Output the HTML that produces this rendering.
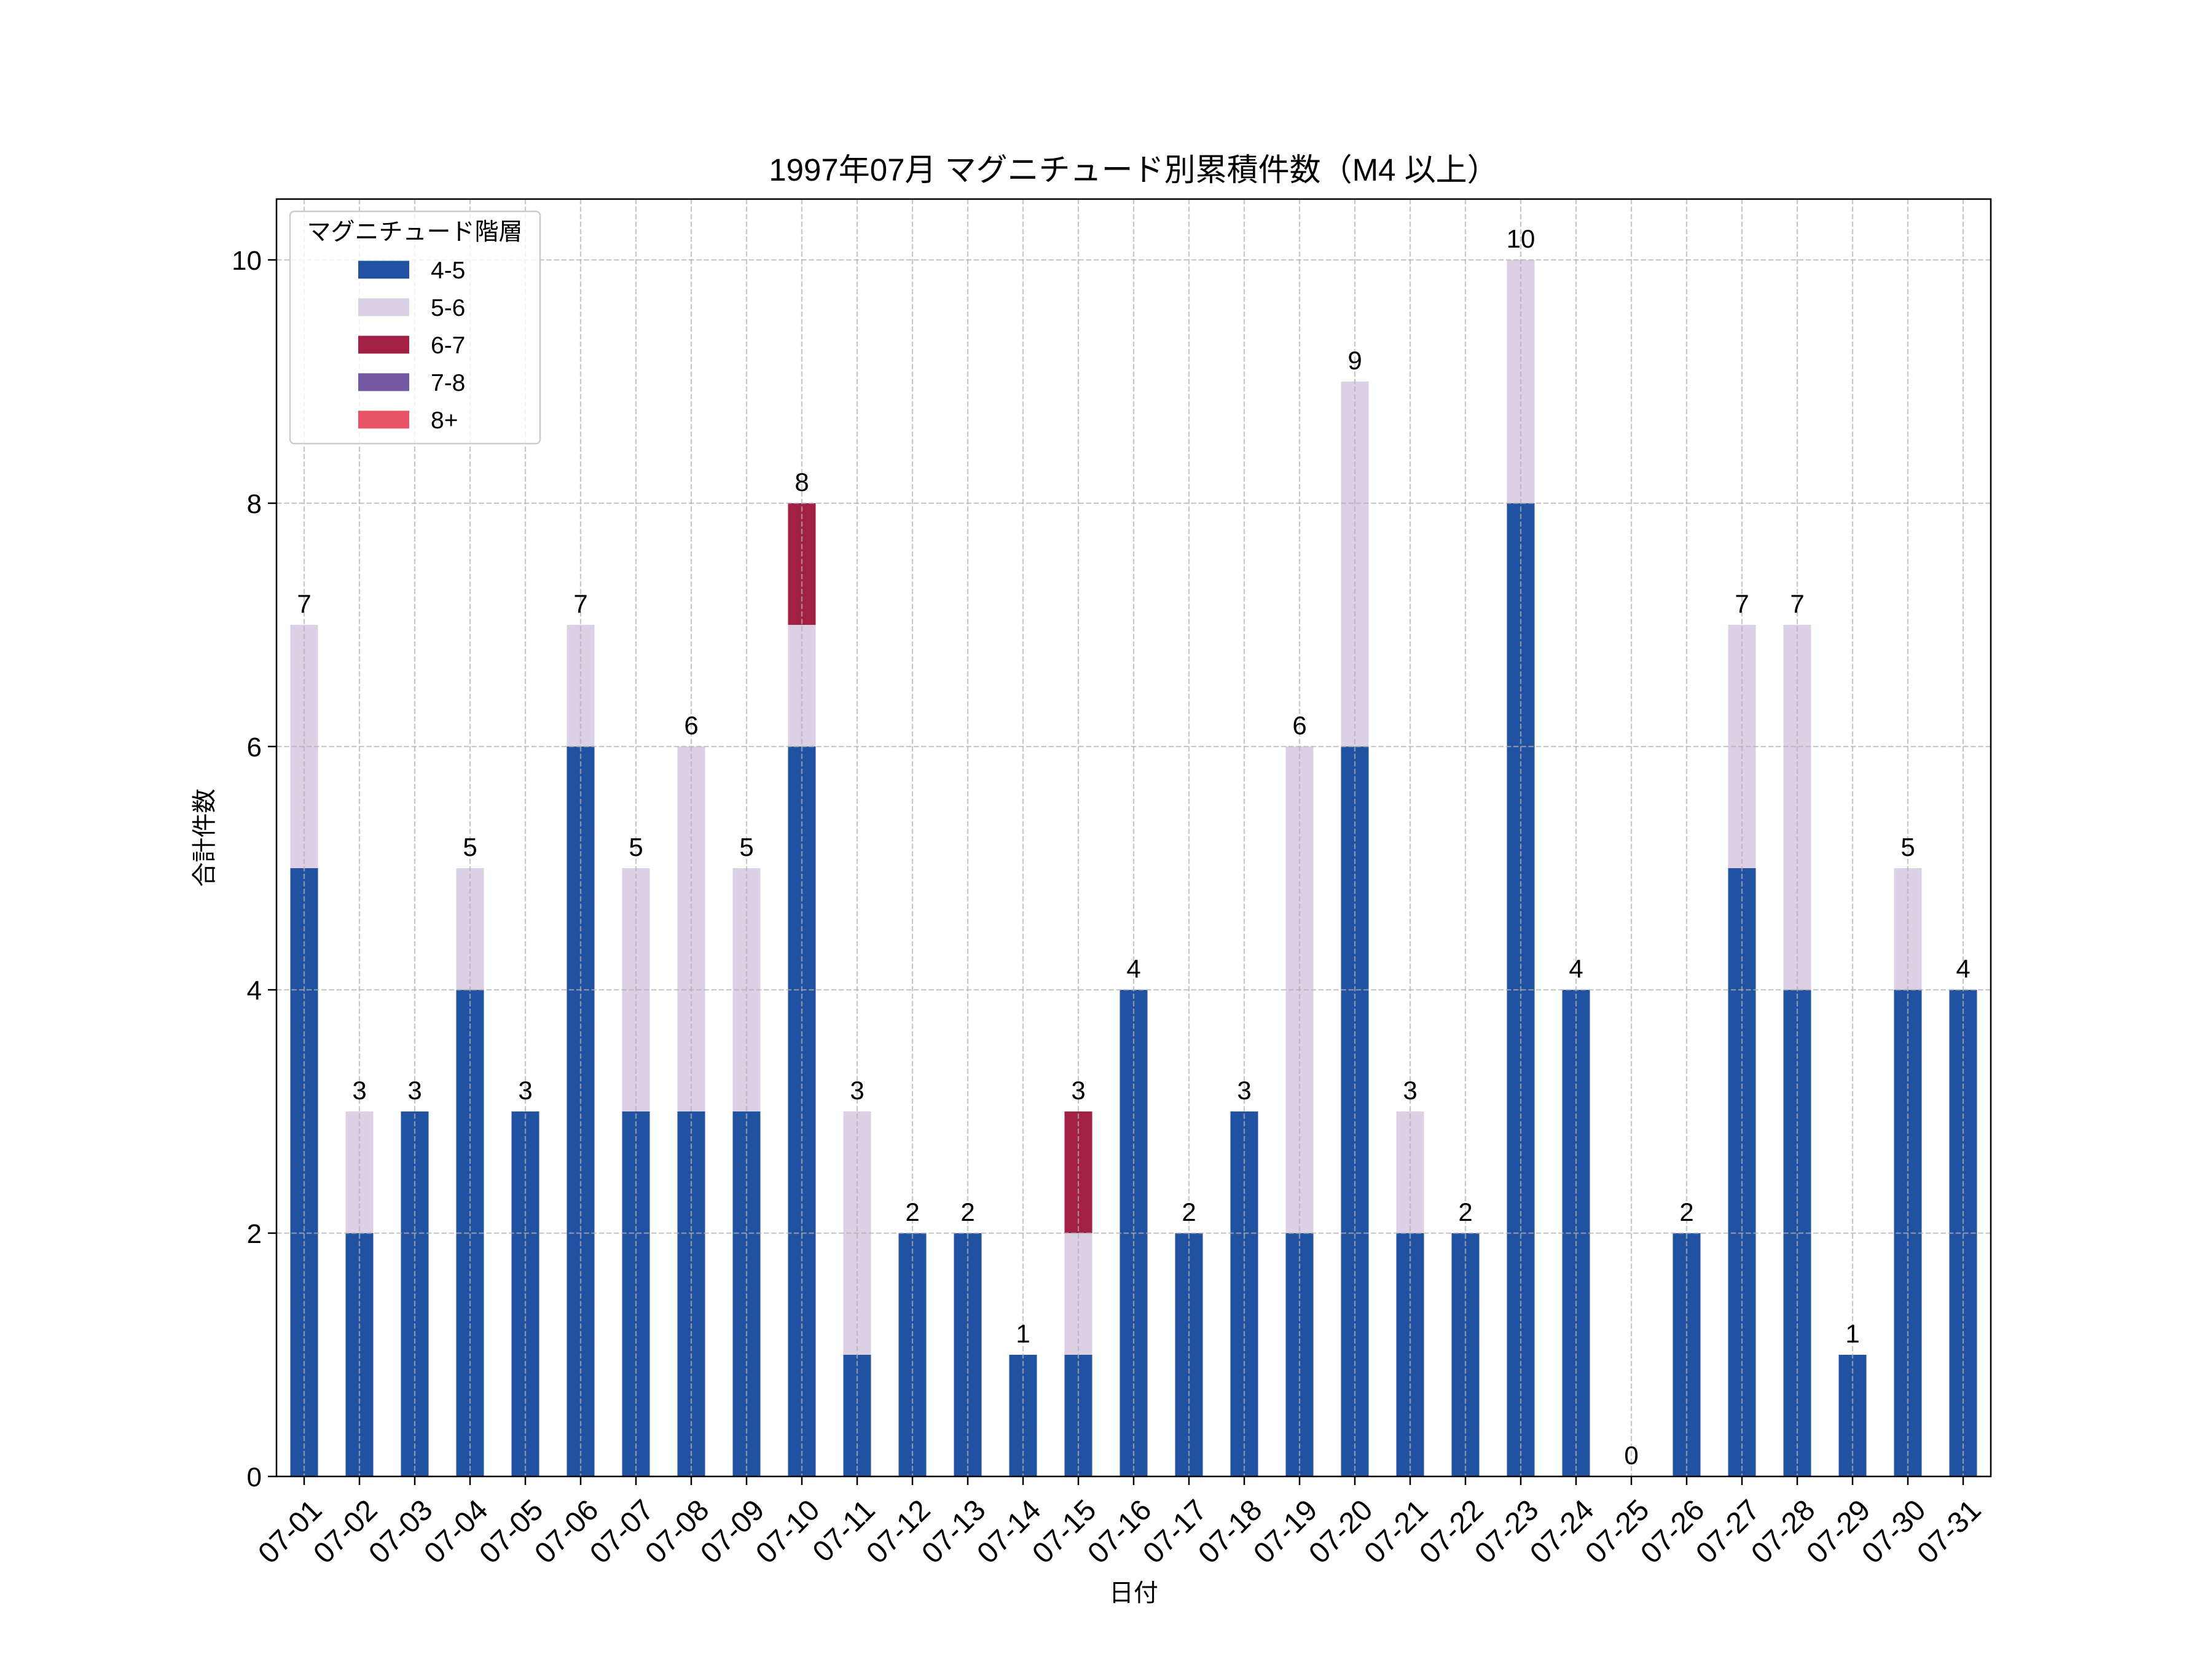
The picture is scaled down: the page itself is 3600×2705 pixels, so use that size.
<!DOCTYPE html>
<html><head><meta charset="utf-8"><style>
html,body{margin:0;padding:0;background:#fff;}
svg text{font-family:"Liberation Sans","Noto Sans CJK JP",sans-serif;fill:#000;}
</style></head><body>
<svg id="c" width="3600" height="2700" viewBox="0 0 3600 2700" xmlns="http://www.w3.org/2000/svg"></svg>
<script>
const data=[[5,2,0],[2,1,0],[3,0,0],[4,1,0],[3,0,0],[6,1,0],[3,2,0],[3,3,0],[3,2,0],[6,1,1],[1,2,0],[2,0,0],[2,0,0],[1,0,0],[1,1,1],[4,0,0],[2,0,0],[3,0,0],[2,4,0],[6,3,0],[2,1,0],[2,0,0],[8,2,0],[4,0,0],[0,0,0],[2,0,0],[5,2,0],[4,3,0],[1,0,0],[4,1,0],[4,0,0]];
const cols=['#2152a1','#dcd0e5','#a22043','#735aa3','#e75467'];
const L=450,R=3240,T=324,B=2403,U=198,S=90,W=45;
let s='';
const y=v=>B-v*U, x=i=>L+S*(i+0.5);
data.forEach((d,i)=>{let c=0;d.forEach((v,k)=>{if(v>0){s+=`<rect x="${x(i)-W/2}" y="${y(c+v)}" width="${W}" height="${v*U}" fill="${cols[k]}"/>`;}c+=v;});});
for(let i=0;i<31;i++)s+=`<line x1="${x(i)}" y1="${T}" x2="${x(i)}" y2="${B}" stroke="#b0b0b0" stroke-opacity="0.7" stroke-width="2.3" stroke-dasharray="8.5,3.7"/>`;
for(let v=0;v<=10;v+=2)s+=`<line x1="${L}" y1="${y(v)}" x2="${R}" y2="${y(v)}" stroke="#b0b0b0" stroke-opacity="0.7" stroke-width="2.3" stroke-dasharray="8.5,3.7"/>`;
data.forEach((d,i)=>{const t=d[0]+d[1]+d[2];s+=`<text x="${x(i)}" y="${y(t)-20}" font-size="42" text-anchor="middle">${t}</text>`;});
s+=`<rect x="${L}" y="${T}" width="${R-L}" height="${B-T}" fill="none" stroke="#000" stroke-width="2.5"/>`;
for(let v=0;v<=10;v+=2){s+=`<line x1="${L-14}" y1="${y(v)}" x2="${L}" y2="${y(v)}" stroke="#000" stroke-width="2.5"/><text x="${L-24}" y="${y(v)+16}" font-size="44" text-anchor="end">${v}</text>`;}
for(let i=0;i<31;i++){const xx=x(i);const lab='07-'+String(i+1).padStart(2,'0');s+=`<line x1="${xx}" y1="${B}" x2="${xx}" y2="${B+14}" stroke="#000" stroke-width="2.5"/><text transform="translate(${xx+8},${B+34}) rotate(-45)" font-size="48" text-anchor="end" dominant-baseline="hanging">${lab}</text>`;}
s+=`<text x="${(L+R)/2}" y="294" font-size="51" text-anchor="middle">1997年07月 マグニチュード別累積件数（M4 以上）</text>`;
s+=`<text x="${(L+R)/2}" y="2606" font-size="40" text-anchor="middle">日付</text>`;
s+=`<text transform="translate(346,${(T+B)/2}) rotate(-90)" font-size="40" text-anchor="middle">合計件数</text>`;
s+=`<rect x="472" y="344" width="407" height="378" rx="7" fill="#fff" fill-opacity="0.8" stroke="#cccccc" stroke-width="2.5"/>`;
s+=`<text x="675" y="380" font-size="39" text-anchor="middle" dominant-baseline="middle">マグニチュード階層</text>`;
['4-5','5-6','6-7','7-8','8+'].forEach((n,k)=>{const cy=439+k*61;s+=`<rect x="583" y="${cy-14.5}" width="83" height="29" fill="${cols[k]}"/><text x="701" y="${cy+14}" font-size="39">${n}</text>`;});
document.getElementById('c').innerHTML=s;
</script>
</body></html>
